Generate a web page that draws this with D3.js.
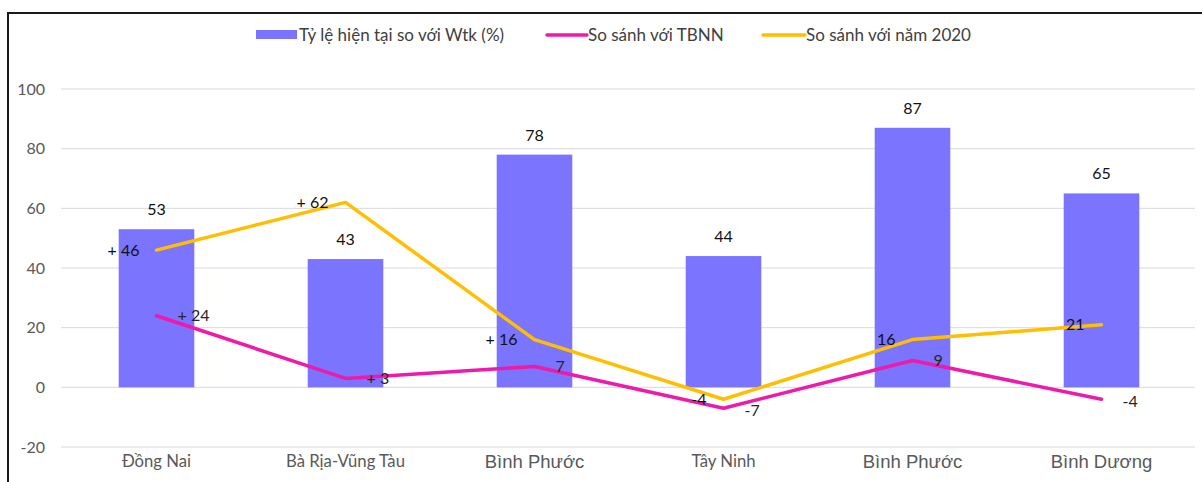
<!DOCTYPE html>
<html>
<head>
<meta charset="utf-8">
<script src="https://cdn.jsdelivr.net/npm/d3@7"></script>
<style>
  body { margin: 0; background: #fff; }
  svg text { font-family: Lato, "Open Sans", sans-serif; }
</style>
</head>
<body>
<svg id="chart" width="1202" height="482"></svg>
<script>
// data
const provinces = ["Đồng Nai", "Bà Rịa-Vũng Tàu", "Bình Phước", "Tây Ninh", "Bình Phước ", "Bình Dương"];
const ratioWtk = [53, 43, 78, 44, 87, 65];
const vsTBNN = [24, 3, 7, -7, 9, -4];
const vs2020 = [46, 62, 16, -4, 16, 21];
const yTicks = [-20, 0, 20, 40, 60, 80, 100];
const seriesNames = ["Tỷ lệ hiện tại so với Wtk (%)", "So sánh với TBNN", "So sánh với năm 2020"];

const barColor = "#7a74fe", pinkColor = "#ee1aa9", yellowColor = "#ffbf00";

const svg = d3.select("#chart");

// outer frame
svg.append("rect")
  .attr("x", 8).attr("y", 13)
  .attr("width", 1210).attr("height", 490)
  .attr("fill", "none").attr("stroke", "#1a1a1a").attr("stroke-width", 2);

const x = d3.scaleBand().domain(d3.range(provinces.length)).range([62, 1196]).paddingInner(0.6).paddingOuter(0.3);
const y = d3.scaleLinear().domain([-20, 100]).range([447, 89]);
const cx = i => x(i) + x.bandwidth() / 2;

// grid
svg.append("g").selectAll("line")
  .data(yTicks).enter().append("line")
  .attr("x1", 61).attr("x2", 1195)
  .attr("y1", d => y(d)).attr("y2", d => y(d))
  .attr("stroke", "#d9d9d9").attr("stroke-width", 1);

// y tick labels
svg.append("g").selectAll("text")
  .data(yTicks).enter().append("text")
  .attr("x", 45).attr("y", d => y(d))
  .attr("dy", "0.35em").attr("text-anchor", "end")
  .attr("font-size", 16).attr("fill", "#595959")
  .text(d => d);

// x labels (some in a different font, like the source)
const bigLabel = i => i == 2 || i >= 4;
svg.append("g").selectAll("text")
  .data(provinces).enter().append("text")
  .attr("x", (d, i) => cx(i)).attr("y", (d, i) => bigLabel(i) ? 468 : 467)
  .attr("text-anchor", "middle")
  .attr("font-size", (d, i) => bigLabel(i) ? 18.5 : 16.7)
  .style("font-family", (d, i) => bigLabel(i) ? "'Liberation Sans', Arial, sans-serif" : null)
  .attr("fill", "#595959")
  .text(d => d.trim());

// bars
svg.append("g").selectAll("rect")
  .data(ratioWtk).enter().append("rect")
  .attr("x", (d, i) => x(i)).attr("width", x.bandwidth())
  .attr("y", d => y(d)).attr("height", d => y(0) - y(d))
  .attr("fill", barColor);

svg.append("g").selectAll("text")
  .data(ratioWtk).enter().append("text")
  .attr("x", (d, i) => cx(i)).attr("y", d => y(d) - 14)
  .attr("text-anchor", "middle").attr("font-size", 16).attr("fill", "#111")
  .text(d => d);

// lines
const line = d3.line().x((d, i) => cx(i)).y(d => y(d));
[[vsTBNN, pinkColor], [vs2020, yellowColor]].forEach(([vals, col]) => {
  svg.append("path").datum(vals)
    .attr("d", line).attr("fill", "none")
    .attr("stroke", col).attr("stroke-width", 3.5)
    .attr("stroke-linejoin", "round").attr("stroke-linecap", "round");
});

const fmt = (d, signed) => (signed && d > 0) ? "+ " + d : String(d);

// TBNN labels sit right of the point
const tbnnSigned = [true, true, false, false, false, false];
svg.append("g").selectAll("text")
  .data(vsTBNN).enter().append("text")
  .attr("x", (d, i) => cx(i) + 21).attr("y", d => y(d) + (d < 0 ? 2 : 0))
  .attr("dy", "0.35em").attr("font-size", 16).attr("fill", "#262626")
  .text((d, i) => fmt(d, tbnnSigned[i]));

// 2020 labels sit left of the point
const y2020Signed = [true, true, true, false, false, false];
svg.append("g").selectAll("text")
  .data(vs2020).enter().append("text")
  .attr("x", (d, i) => cx(i) - 17).attr("y", d => y(d))
  .attr("dy", "0.35em").attr("text-anchor", "end")
  .attr("font-size", 16).attr("fill", "#111")
  .text((d, i) => fmt(d, y2020Signed[i]));

// legend
const legend = svg.append("g").attr("font-size", 17).attr("fill", "#404040");
legend.append("rect").attr("x", 256).attr("y", 30).attr("width", 41).attr("height", 9).attr("fill", barColor);
legend.append("text").attr("x", 299).attr("y", 35).attr("dy", "0.35em").attr("fill", "#404040").text(seriesNames[0]);
legend.append("line").attr("x1", 547).attr("x2", 587).attr("y1", 35).attr("y2", 35)
  .attr("stroke", pinkColor).attr("stroke-width", 3.5).attr("stroke-linecap", "round");
legend.append("text").attr("x", 588).attr("y", 35).attr("dy", "0.35em").attr("fill", "#404040").text(seriesNames[1]);
legend.append("line").attr("x1", 763).attr("x2", 805).attr("y1", 35).attr("y2", 35)
  .attr("stroke", yellowColor).attr("stroke-width", 3.5).attr("stroke-linecap", "round");
legend.append("text").attr("x", 806).attr("y", 35).attr("dy", "0.35em").attr("fill", "#404040").text(seriesNames[2]);
</script>
</body>
</html>
